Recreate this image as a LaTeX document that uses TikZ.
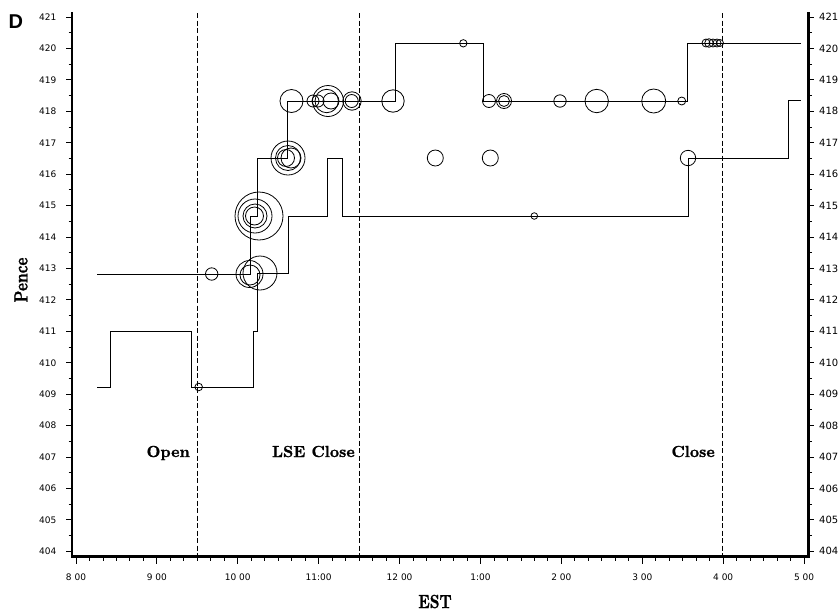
\documentclass[tikz,border=0pt]{standalone}
\usepackage{fontspec}
\newfontfamily\ticksf{DejaVu Sans}
\newfontfamily\dfont{Liberation Sans}
\newfontfamily\heavy[FakeBold=1.2]{lmroman10-bold.otf}
\begin{document}
\begin{tikzpicture}[x=1pt,y=-1pt,
  axis/.style={line width=2.4pt},
  tickline/.style={line width=0.9pt},
  dashline/.style={line width=0.7pt, dash pattern=on 5pt off 2.5pt},
  stepline/.style={line width=1pt},
  bubble/.style={line width=0.8pt},
  lab/.style={font=\heavy\fontsize{16}{18}\selectfont, inner sep=0pt},
  ticklab/.style={font=\ticksf\fontsize{9}{10}\selectfont, inner sep=0pt},
  rticklab/.style={font=\ticksf\fontsize{10}{11}\selectfont, inner sep=0pt}]
\useasboundingbox (0,0) rectangle (838,614);

% axes
\draw[axis] (72,12) -- (72,556.5) -- (808.5,556.5) -- (808.5,12);

% left and right ticks
\foreach \v in {404,...,421} {
  \pgfmathsetmacro\yy{17+(421-\v)*31.43}
  \draw[tickline] (66,\yy) -- (72,\yy);
  \draw[tickline] (808,\yy) -- (814,\yy);
  \node[ticklab,anchor=west] (yl\v) at (39,\yy) {\v};
  \node[rticklab,anchor=west] (yr\v) at (819,\yy) {\v};
}
\foreach \v in {404.5,405.5,...,420.5} {
  \pgfmathsetmacro\yy{17+(421-\v)*31.43}
  \draw[tickline] (68.5,\yy) -- (72,\yy);
  \draw[tickline] (808,\yy) -- (811.5,\yy);
}
% bottom ticks
\foreach \i in {0,...,54} {
  \pgfmathsetmacro\xx{76+\i*80.9/6}
  \pgfmathsetmacro\tl{mod(\i,6)==0 ? 7 : 4}
  \draw[tickline] (\xx,556.5) -- (\xx,556.5+\tl);
}
\foreach \i/\t in {0/8 00,1/9 00,2/10 00,3/11:00,4/12 00,5/1:00,6/2 00,7/3 00,8/4 00,9/5 00} {
  \pgfmathsetmacro\xx{76+\i*80.9}
  \node[ticklab] (xl\i) at (\xx,577) {\t};
}

% session lines
\draw[dashline] (197.4,13) -- (197.4,556);
\draw[dashline] (359.3,13) -- (359.3,556);
\draw[dashline] (722,13) -- (722,556);

\node[lab,anchor=base east] (open) at (190,457) {Open};
\node[lab,anchor=base east] (lse) at (355,457) {LSE Close};
\node[lab,anchor=base east] (close) at (715,457) {Close};

% axis titles
\node[rotate=90,inner sep=0pt] (pence) at (21,280) {\scalebox{0.8}[1]{\heavy\fontsize{19}{21}\selectfont Pence}};
\node[inner sep=0pt] (est) at (435,601.5) {\scalebox{0.8}[1]{\heavy\fontsize{19}{21}\selectfont EST}};
\node[inner sep=0pt,font=\dfont\bfseries\fontsize{20}{22}\selectfont] (D) at (15.8,21.7) {D};

% quote step lines
\draw[stepline] (97,274) -| (250,216) -| (257,158) -| (287,101) -| (395,43) -| (483,101) -| (687,43) -- (801,43);
\draw[stepline] (97,387) -| (110,331) -| (191,387) -| (253,331) -| (257.5,273) -| (288,216) -| (327,158) -| (342,216) -| (688,158) -| (788,100) -- (801,100);

% trades
\foreach \x/\y/\r in {
  198.7/387/3.8, 211.7/274/6.2,
  249.5/274/13.5, 250/275/10, 260/273/17,
  259/216/24, 255/216/17, 255/216/12, 254.5/216/9,
  288/158/17, 288/158/12.5, 291/158/10, 286/158/8.5,
  291.5/101/11.5, 313/101/6, 318/101/6, 328/101/15.5, 326.7/101/11.7, 331/101/8, 352/101/9.2, 351.7/101/6.5, 393/101/11.2,
  463.3/43.3/3.7,
  489/101/6.5, 504/101/7.5, 504/101/5.5, 560/101/6.2, 596.7/101/11.7, 653.7/101/12, 681.7/101/4,
  435.3/158/8, 490.3/158/8, 688/158/7.7,
  534.3/216/3.3,
  706/43/4, 709/43/4.3, 713/43/4, 717/43/4, 720/43/3.5} {
  \draw[bubble] (\x,\y) circle[radius=\r pt];
}
\end{tikzpicture}
\end{document}
